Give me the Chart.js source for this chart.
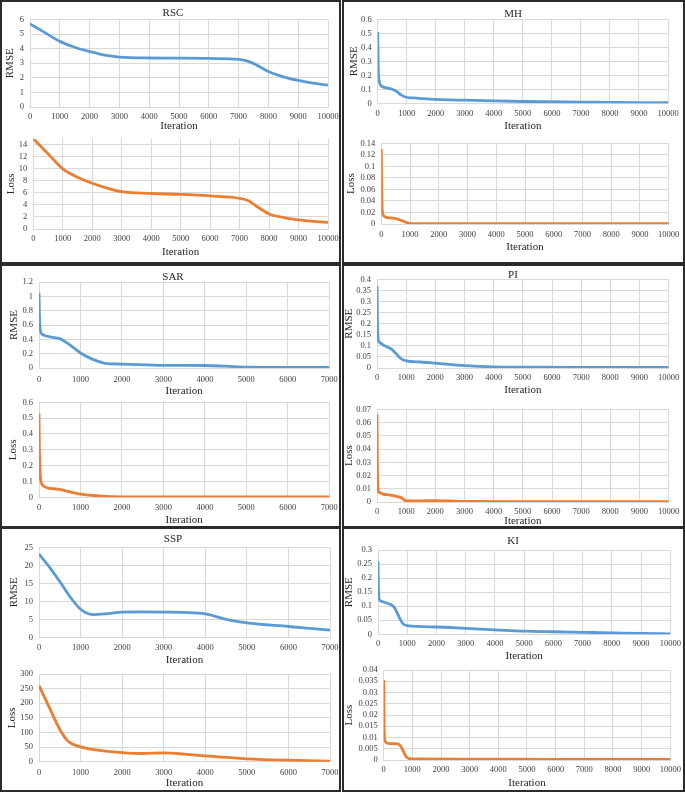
<!DOCTYPE html>
<html>
<head>
<meta charset="utf-8">
<title>RMSE and Loss per iteration</title>
<script src="https://cdn.jsdelivr.net/npm/chart.js@4.4.1/dist/chart.umd.min.js"></script>
<style>
  html, body { margin: 0; padding: 0; background: #fff; }
  #figure { position: relative; width: 685px; height: 793px; overflow: hidden; background: #fff; }
  .panel { position: absolute; box-sizing: border-box; border: 2px solid #2b2b2b; }
  #figure canvas { position: absolute; }
</style>
</head>
<body>
<div id="figure"></div>
<script>
// ---- data ----
const rscIter = [0, 500, 1000, 1500, 2000, 2500, 3000, 4000, 5000, 6000, 7000, 7300, 7600, 8000, 8500, 9000, 9500, 10000];
const rscRmse = [5.7, 5.1, 4.5, 4.1, 3.8, 3.55, 3.42, 3.36, 3.35, 3.33, 3.26, 3.15, 2.88, 2.43, 2.07, 1.82, 1.63, 1.5];
const rscLoss = [15, 12.5, 10, 8.6, 7.6, 6.8, 6.2, 5.9, 5.75, 5.5, 5.1, 4.7, 3.7, 2.5, 1.9, 1.5, 1.25, 1.1];

const mhIter = [0, 20, 60, 150, 300, 500, 650, 800, 950, 1200, 2000, 3000, 4000, 5000, 6000, 7000, 8000, 9000, 10000];
const mhRmse = [0.51, 0.25, 0.15, 0.12, 0.11, 0.1, 0.085, 0.06, 0.045, 0.038, 0.028, 0.022, 0.017, 0.013, 0.011, 0.009, 0.007, 0.005, 0.004];
const mhLossIter = [0, 20, 60, 150, 300, 500, 700, 850, 1000, 1500, 3000, 5000, 7000, 10000];
const mhLoss = [0.13, 0.04, 0.016, 0.012, 0.0105, 0.0095, 0.006, 0.003, 0.0008, 0.0005, 0.0005, 0.0005, 0.0005, 0.0005];

const sarIter = [0, 10, 30, 80, 150, 300, 500, 750, 1000, 1300, 1600, 2000, 3000, 4000, 4500, 5000, 6000, 7000];
const sarRmse = [1.05, 0.75, 0.53, 0.47, 0.45, 0.43, 0.41, 0.32, 0.21, 0.12, 0.065, 0.055, 0.037, 0.035, 0.025, 0.012, 0.008, 0.008];
const sarLossIter = [0, 10, 30, 60, 120, 200, 350, 500, 700, 1000, 1500, 2000, 3000, 5000, 7000];
const sarLoss = [0.53, 0.3, 0.14, 0.09, 0.07, 0.06, 0.054, 0.05, 0.037, 0.02, 0.008, 0.003, 0.002, 0.002, 0.002];

const piIter = [0, 15, 40, 100, 200, 350, 500, 650, 800, 1000, 1500, 2000, 3000, 4000, 5000, 7000, 10000];
const piRmse = [0.37, 0.2, 0.13, 0.115, 0.105, 0.095, 0.085, 0.065, 0.045, 0.032, 0.027, 0.022, 0.011, 0.005, 0.004, 0.003, 0.003];
const piLossIter = [0, 15, 40, 100, 200, 350, 500, 700, 850, 1000, 1500, 2000, 2500, 3000, 5000, 10000];
const piLoss = [0.066, 0.025, 0.009, 0.007, 0.006, 0.0055, 0.005, 0.004, 0.003, 0.0008, 0.0009, 0.0011, 0.0008, 0.0004, 0.0003, 0.0003];

const sspIter = [0, 250, 500, 750, 1000, 1300, 1600, 2000, 2500, 3000, 3500, 4000, 4500, 5000, 6000, 7000];
const sspRmse = [23.1, 19.5, 15.5, 11.2, 7.8, 6.3, 6.5, 7.0, 7.05, 7.0, 6.9, 6.5, 5.0, 4.0, 3.0, 2.0];
const sspLossIter = [0, 250, 500, 700, 1000, 1500, 2000, 2500, 3000, 3500, 4000, 5000, 6000, 7000];
const sspLoss = [260, 185, 110, 70, 51, 38, 31, 28, 30, 26, 20, 10, 5, 2];

const kiIter = [0, 15, 40, 100, 250, 450, 550, 650, 750, 850, 1000, 2000, 3000, 4000, 5000, 6000, 7000, 8000, 9000, 10000];
const kiRmse = [0.26, 0.16, 0.125, 0.118, 0.113, 0.105, 0.097, 0.078, 0.055, 0.038, 0.031, 0.026, 0.021, 0.016, 0.011, 0.009, 0.007, 0.005, 0.003, 0.0015];
const kiLossIter = [0, 15, 40, 100, 200, 350, 500, 600, 700, 800, 900, 1000, 3000, 6000, 10000];
const kiLoss = [0.0355, 0.014, 0.0088, 0.0077, 0.0073, 0.0073, 0.0072, 0.006, 0.0035, 0.0012, 0.0006, 0.0005, 0.0004, 0.0003, 0.0003];

// ---- look ----
const FONT = "'Liberation Serif', 'Times New Roman', serif";
const BLUE = '#5b9bd5';
const ORANGE = '#ed7d31';
const GRID = '#d9d9d9';

// panel frames: left, top, width, height
const panels = [
    [0, 0, 341, 264], [342, 0, 343, 264],
    [0, 264, 341, 264], [342, 264, 343, 264],
    [0, 527, 341, 265], [342, 527, 343, 265]
];

// plot = [left, right, top, bottom] of the plotting area in page pixels
const charts = [
    { title: 'RSC', yLabel: 'RMSE', iter: rscIter, values: rscRmse, color: BLUE, xMax: 10000, yMax: 6, yStep: 1,
      plot: [30, 328, 19.5, 107], tickY: 117, xTitleY: 126, yTitleX: 10.5, titleAt: [173, 13] },
    { yLabel: 'Loss', iter: rscIter, values: rscLoss, color: ORANGE, xMax: 10000, yMax: 15, yStep: 2,
      plot: [33.3, 328, 138.7, 229], tickY: 239, xTitleY: 252.5, yTitleX: 11 },
    { title: 'MH', yLabel: 'RMSE', iter: mhIter, values: mhRmse, color: BLUE, xMax: 10000, yMax: 0.6, yStep: 0.1,
      plot: [377.7, 668, 19.3, 103.3], tickY: 113.3, xTitleY: 125.7, yTitleX: 354, titleAt: [513, 14] },
    { yLabel: 'Loss', iter: mhLossIter, values: mhLoss, color: ORANGE, xMax: 10000, yMax: 0.14, yStep: 0.02,
      plot: [381.3, 668.7, 143.3, 224], tickY: 234.3, xTitleY: 247.3, yTitleX: 351.5 },
    { title: 'SAR', yLabel: 'RMSE', iter: sarIter, values: sarRmse, color: BLUE, xMax: 7000, yMax: 1.2, yStep: 0.2,
      plot: [39, 329.3, 282, 368], tickY: 379.3, xTitleY: 390.8, yTitleX: 14, titleAt: [173, 277] },
    { yLabel: 'Loss', iter: sarLossIter, values: sarLoss, color: ORANGE, xMax: 7000, yMax: 0.6, yStep: 0.1,
      plot: [39, 329.3, 402.3, 497.3], tickY: 507.7, xTitleY: 520, yTitleX: 13 },
    { title: 'PI', yLabel: 'RMSE', iter: piIter, values: piRmse, color: BLUE, xMax: 10000, yMax: 0.4, yStep: 0.05,
      plot: [377, 668.7, 279.3, 368], tickY: 378, xTitleY: 390.5, yTitleX: 349.5, titleAt: [513, 274.7] },
    { yLabel: 'Loss', iter: piLossIter, values: piLoss, color: ORANGE, xMax: 10000, yMax: 0.07, yStep: 0.01,
      plot: [377, 668.7, 409.3, 502], tickY: 512, xTitleY: 521, yTitleX: 349.5 },
    { title: 'SSP', yLabel: 'RMSE', iter: sspIter, values: sspRmse, color: BLUE, xMax: 7000, yMax: 25, yStep: 5,
      plot: [39, 330, 547.3, 637.3], tickY: 647.3, xTitleY: 660, yTitleX: 14, titleAt: [173, 539] },
    { yLabel: 'Loss', iter: sspLossIter, values: sspLoss, color: ORANGE, xMax: 7000, yMax: 300, yStep: 50,
      plot: [39, 330, 674, 761.7], tickY: 772.3, xTitleY: 783.3, yTitleX: 12.2 },
    { title: 'KI', yLabel: 'RMSE', iter: kiIter, values: kiRmse, color: BLUE, xMax: 10000, yMax: 0.3, yStep: 0.05,
      plot: [378, 670.3, 550, 634.3], tickY: 644, xTitleY: 655.7, yTitleX: 349.5, titleAt: [513, 540.7] },
    { yLabel: 'Loss', iter: kiLossIter, values: kiLoss, color: ORANGE, xMax: 10000, yMax: 0.04, yStep: 0.005,
      plot: [383.7, 670.3, 670, 760], tickY: 770, xTitleY: 782.7, yTitleX: 349.5 }
];

/**
 * Small plugin that writes the panel name (RSC, MH ...) centred on the panel
 */
const panelTitlePlugin = {
    id: 'panelTitle',
    afterDraw(chart, args, opts) {
        if (!opts.text) return;
        const ctx = chart.ctx;
        ctx.save();
        ctx.font = '11px ' + FONT;
        ctx.fillStyle = '#262626';
        ctx.textAlign = 'center';
        ctx.textBaseline = 'middle';
        ctx.fillText(opts.text, opts.x, opts.y);
        ctx.restore();
    }
};

// plain number labels: 10000 not 10,000 and 0.1 not 0.10
function formatTick(value) {
    return String(Number(value.toFixed(4)));
}

/**
 * Build one chart so that its plotting area lands on spec.plot
 */
function buildChart(spec) {
    const [px0, px1, py0, py1] = spec.plot;
    const titleTop = spec.titleAt ? spec.titleAt[1] - 8 : py0 - 12;
    const left = Math.round(spec.yTitleX - 6.5);
    const top = Math.floor(Math.min(py0 - 12, titleTop));
    const width = Math.ceil(px1 + 18 - left);
    const height = Math.ceil(spec.xTitleY + 7 - top);
    const yAxisWidth = px0 - left;
    const xAxisHeight = top + height - py1;

    const canvas = document.createElement('canvas');
    canvas.width = width;
    canvas.height = height;
    canvas.style.left = left + 'px';
    canvas.style.top = top + 'px';
    canvas.style.width = width + 'px';
    canvas.style.height = height + 'px';
    document.getElementById('figure').appendChild(canvas);

    const points = spec.iter.map((x, i) => ({ x: x, y: spec.values[i] }));

    return new Chart(canvas, {
        type: 'line',
        data: {
            datasets: [{
                data: points,
                borderColor: spec.color,
                borderWidth: 2.8,
                pointRadius: 0,
                fill: false,
                cubicInterpolationMode: 'monotone'
            }]
        },
        options: {
            responsive: false,
            animation: false,
            devicePixelRatio: 1,
            layout: {
                padding: { left: 0, top: py0 - top, right: width - (px1 - left), bottom: 0 }
            },
            plugins: {
                legend: { display: false },
                tooltip: { enabled: false },
                title: { display: false },
                panelTitle: spec.title
                    ? { text: spec.title, x: spec.titleAt[0] - left, y: spec.titleAt[1] - top }
                    : { text: '' }
            },
            scales: {
                x: {
                    type: 'linear',
                    min: 0,
                    max: spec.xMax,
                    grid: { color: GRID, lineWidth: 1, drawTicks: false },
                    border: { color: GRID },
                    ticks: {
                        stepSize: 1000,
                        padding: spec.tickY - py1 - 4.25,
                        color: '#404040',
                        font: { family: FONT, size: 8.5, lineHeight: 1 },
                        maxRotation: 0,
                        autoSkip: false,
                        callback: formatTick
                    },
                    title: {
                        display: true,
                        text: 'Iteration',
                        color: '#262626',
                        font: { family: FONT, size: 11, lineHeight: 1 },
                        padding: { top: 0, bottom: top + height - spec.xTitleY - 5.5 }
                    },
                    afterFit: (scale) => { scale.height = xAxisHeight; }
                },
                y: {
                    type: 'linear',
                    min: 0,
                    max: spec.yMax,
                    grid: { color: GRID, lineWidth: 1, drawTicks: false },
                    border: { color: GRID },
                    ticks: {
                        stepSize: spec.yStep,
                        includeBounds: false,
                        autoSkip: false,
                        padding: 6,
                        color: '#404040',
                        font: { family: FONT, size: 8.5, lineHeight: 1 },
                        callback: formatTick
                    },
                    title: {
                        display: true,
                        text: spec.yLabel,
                        color: '#262626',
                        font: { family: FONT, size: 11, lineHeight: 1 },
                        padding: { top: spec.yTitleX - 5.5 - left, bottom: 0 }
                    },
                    afterFit: (scale) => { scale.width = yAxisWidth; }
                }
            }
        },
        plugins: [panelTitlePlugin]
    });
}

// panel frames first, charts drawn on top
panels.forEach(p => {
    const div = document.createElement('div');
    div.className = 'panel';
    div.style.left = p[0] + 'px';
    div.style.top = p[1] + 'px';
    div.style.width = p[2] + 'px';
    div.style.height = p[3] + 'px';
    document.getElementById('figure').appendChild(div);
});

charts.forEach(spec => buildChart(spec));
</script>
</body>
</html>
